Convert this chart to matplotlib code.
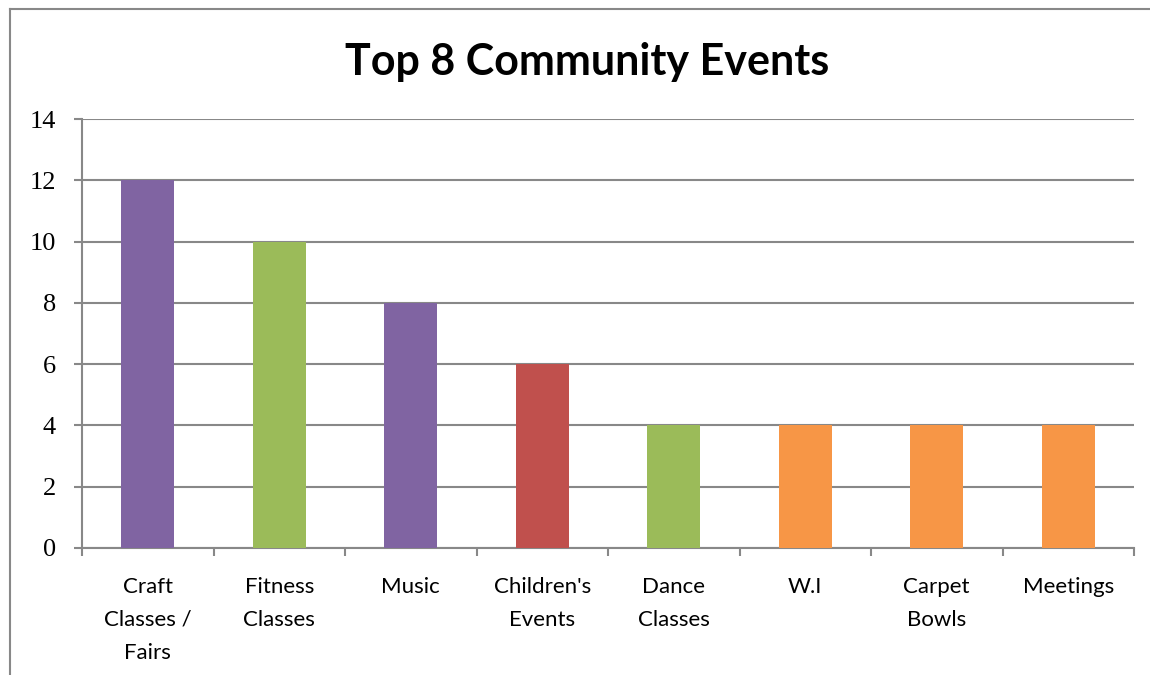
import numpy as np
import matplotlib.pyplot as plt
from matplotlib.lines import Line2D

categories = ["Craft\nClasses /\nFairs", "Fitness\nClasses", "Music", "Children's\nEvents",
              "Dance\nClasses", "W.I", "Carpet\nBowls", "Meetings"]
values = [12, 10, 8, 6, 4, 4, 4, 4]
colors = ["#8064A2", "#9BBB59", "#8064A2", "#C0504D", "#9BBB59", "#F79646", "#F79646", "#F79646"]

fig = plt.figure(figsize=(11.5, 6.75), dpi=100)
ax = fig.add_axes([82/1150, 1-548/675, (1134-82)/1150, (548-119)/675])

x = np.arange(len(categories))
ax.bar(x, values, width=0.4, color=colors, zorder=3)

ax.set_xlim(-0.5, len(categories) - 0.5)
ax.set_ylim(0, 14)
ax.set_yticks(range(0, 15, 2))
ax.set_yticklabels([str(v) for v in range(0, 15, 2)], family="Liberation Serif", fontsize=19)
ax.yaxis.grid(True, color="#888888", linewidth=1.5, zorder=0)

ax.set_xticks(x)
ax.set_xticklabels(categories, family="Lato", fontsize=16, linespacing=1.8)
ax.set_xticks(np.arange(-0.5, len(categories)), minor=True)
ax.tick_params(axis="x", which="major", length=0, pad=21)
ax.tick_params(axis="x", which="minor", length=5.5, width=1.5, color="#888888")
ax.tick_params(axis="y", length=5.8, width=1.5, color="#888888", pad=13)

for s in ["top", "right"]:
    ax.spines[s].set_visible(False)
for s in ["left", "bottom"]:
    ax.spines[s].set_color("#888888")
    ax.spines[s].set_linewidth(1.5)

fig.text(587/1150, 1-62/675, "Top 8 Community Events", ha="center", va="center",
         family="Lato", fontweight="bold", fontsize=31)

# outer chart frame: only left and top edges are inside the image
fig.add_artist(Line2D([10/1150, 10/1150], [0, 1-9/675], transform=fig.transFigure,
                      color="#888888", linewidth=1.5))
fig.add_artist(Line2D([10/1150, 1], [1-9/675, 1-9/675], transform=fig.transFigure,
                      color="#888888", linewidth=1.5))

fig.savefig("out.png", dpi=100)
